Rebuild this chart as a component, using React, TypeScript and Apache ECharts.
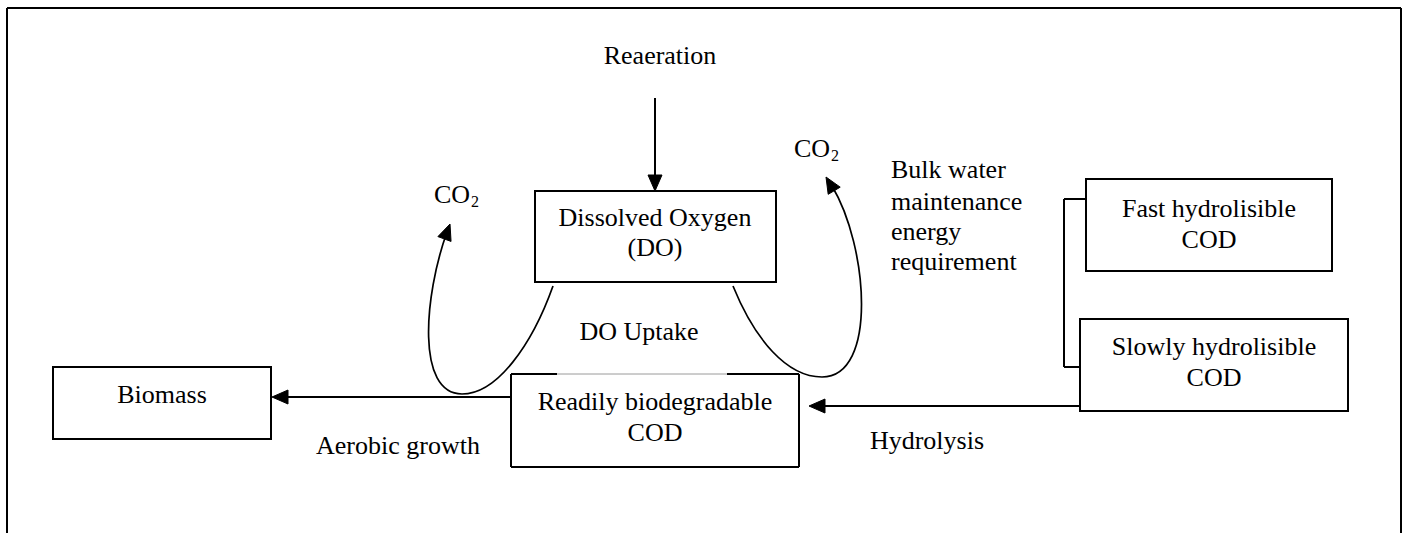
import React, { useEffect, useRef } from "react";
import * as echarts from "echarts";

// ---- Text content of the diagram ----
const boxLabels: string[][] = [
  ["Dissolved Oxygen", "(DO)"],
  ["Biomass"],
  ["Readily biodegradable", "COD"],
  ["Fast hydrolisible", "COD"],
  ["Slowly hydrolisible", "COD"],
];
const flowLabels: string[] = ["Reaeration", "DO Uptake", "Aerobic growth", "Hydrolysis"];
const noteLines: string[] = ["Bulk water", "maintenance", "energy", "requirement"];
const gasLabel: string[] = ["CO", "2"];

// ---- Layout (pixels) ----
const W = 1407;
const H = 533;
const FONT_FAMILY = '"Liberation Serif", "Times New Roman", Times, serif';
const FS = 26;
const boxRects = [
  { x1: 535, y1: 191, x2: 776, y2: 282, cx: 655, lines: [217, 247] },
  { x1: 53, y1: 367, x2: 271, y2: 439, cx: 162, lines: [394] },
  { x1: 511, y1: 374, x2: 799, y2: 467, cx: 655, lines: [401, 432] },
  { x1: 1086, y1: 179, x2: 1332, y2: 271, cx: 1209, lines: [208, 239] },
  { x1: 1080, y1: 319, x2: 1348, y2: 411, cx: 1214, lines: [346, 377] },
];
const flowPos = [
  { x: 660, y: 55 },
  { x: 639, y: 331 },
  { x: 398, y: 445 },
  { x: 927, y: 440 },
];
const notePos = { x: 891, y: [169, 201, 231, 261] };
const gasPos = [
  { x: 434, y: 194 },
  { x: 794, y: 148 },
];

const BLACK = "#000";

function text(str: string, x: number, y: number, size = FS, align = "center") {
  return {
    type: "text",
    x,
    y,
    silent: true,
    style: {
      text: str,
      font: `${size}px ${FONT_FAMILY}`,
      fill: BLACK,
      textAlign: align,
      align,
      textVerticalAlign: "middle",
      verticalAlign: "middle",
    },
  };
}

function line(x1: number, y1: number, x2: number, y2: number, lw = 2, color = BLACK) {
  return {
    type: "line",
    silent: true,
    shape: { x1, y1, x2, y2 },
    style: { stroke: color, lineWidth: lw },
  };
}

function head(tx: number, ty: number, fx: number, fy: number) {
  const dx = tx - fx;
  const dy = ty - fy;
  const len = Math.hypot(dx, dy);
  const ux = dx / len;
  const uy = dy / len;
  const L = 16;
  const Wd = 7;
  const bx = tx - ux * L;
  const by = ty - uy * L;
  return {
    type: "polygon",
    silent: true,
    shape: {
      points: [
        [tx, ty],
        [bx - uy * Wd, by + ux * Wd],
        [bx + uy * Wd, by - ux * Wd],
      ],
    },
    style: { fill: BLACK, stroke: BLACK, lineWidth: 1 },
  };
}

function straightArrow(x1: number, y1: number, tx: number, ty: number) {
  const dx = tx - x1;
  const dy = ty - y1;
  const len = Math.hypot(dx, dy);
  const ex = tx - (dx / len) * 12;
  const ey = ty - (dy / len) * 12;
  return [line(x1, y1, ex, ey, 2), head(tx, ty, x1, y1)];
}

function bez(p0: number[], c1: number[], c2: number[], p1: number[]) {
  return {
    type: "bezierCurve",
    silent: true,
    shape: {
      x1: p0[0], y1: p0[1], cpx1: c1[0], cpy1: c1[1],
      cpx2: c2[0], cpy2: c2[1], x2: p1[0], y2: p1[1],
    },
    style: { stroke: BLACK, lineWidth: 1.7, fill: "none" },
  };
}

function buildElements() {
  const els: any[] = [];
  // outer frame (open at the bottom)
  els.push(line(7, 8, 1401, 8, 2));
  els.push(line(7, 8, 7, H, 2));
  els.push(line(1401, 8, 1401, H, 2));

  // boxes
  boxRects.forEach((b, i) => {
    if (i === 2) {
      els.push(line(b.x1, b.y1, b.x1, b.y2, 2));
      els.push(line(b.x2, b.y1, b.x2, b.y2, 2));
      els.push(line(b.x1, b.y2, b.x2, b.y2, 2));
      els.push(line(b.x1, b.y1, 557, b.y1, 2));
      els.push(line(557, b.y1, 727, b.y1, 1, "#9a9a9a"));
      els.push(line(727, b.y1, b.x2, b.y1, 2));
    } else {
      els.push({
        type: "rect",
        silent: true,
        shape: { x: b.x1, y: b.y1, width: b.x2 - b.x1, height: b.y2 - b.y1 },
        style: { fill: "#fff", stroke: BLACK, lineWidth: 2 },
      });
    }
    boxLabels[i].forEach((s, j) => els.push(text(s, b.cx, b.lines[j])));
  });

  // bracket linking the two hydrolysable fractions
  els.push(line(1064, 199, 1086, 199, 2));
  els.push(line(1064, 199, 1064, 367, 2));
  els.push(line(1064, 367, 1080, 367, 2));

  // straight arrows
  els.push(...straightArrow(655, 98, 655, 191));
  els.push(...straightArrow(511, 397, 272, 397));
  els.push(...straightArrow(1080, 406, 809, 406));

  // left loop (DO uptake -> CO2)
  els.push(bez([553, 286], [532, 345], [497, 394], [462, 394]));
  els.push(bez([462, 394], [416, 394], [424, 296], [447, 232]));
  els.push(head(450, 224, 425, 292));
  // right loop (maintenance -> CO2)
  els.push(bez([733, 286], [755, 340], [787, 377], [822, 377]));
  els.push(bez([822, 377], [878, 377], [868, 246], [832, 186]));
  els.push(head(826, 177, 866, 244));

  // flow labels
  flowLabels.forEach((s, i) => els.push(text(s, flowPos[i].x, flowPos[i].y)));
  // note
  noteLines.forEach((s, i) => els.push(text(s, notePos.x, notePos.y[i], FS, "left")));
  // CO2 labels
  gasPos.forEach((p) => {
    els.push(text(gasLabel[0], p.x, p.y, FS, "left"));
    els.push(text(gasLabel[1], p.x + 37, p.y + 7, 16, "left"));
  });
  return els;
}

export default function App() {
  const ref = useRef<HTMLDivElement>(null);
  useEffect(() => {
    document.body.style.margin = "0";
    if (!ref.current) return;
    const chart = echarts.init(ref.current, undefined, { renderer: "svg", width: W, height: H });
    chart.setOption({
      animation: false,
      backgroundColor: "#fff",
      graphic: { elements: buildElements() },
    });
    return () => chart.dispose();
  }, []);
  return (
    <div
      ref={ref}
      style={{ position: "absolute", left: 0, top: 0, width: W, height: H, background: "#fff" }}
    />
  );
}
